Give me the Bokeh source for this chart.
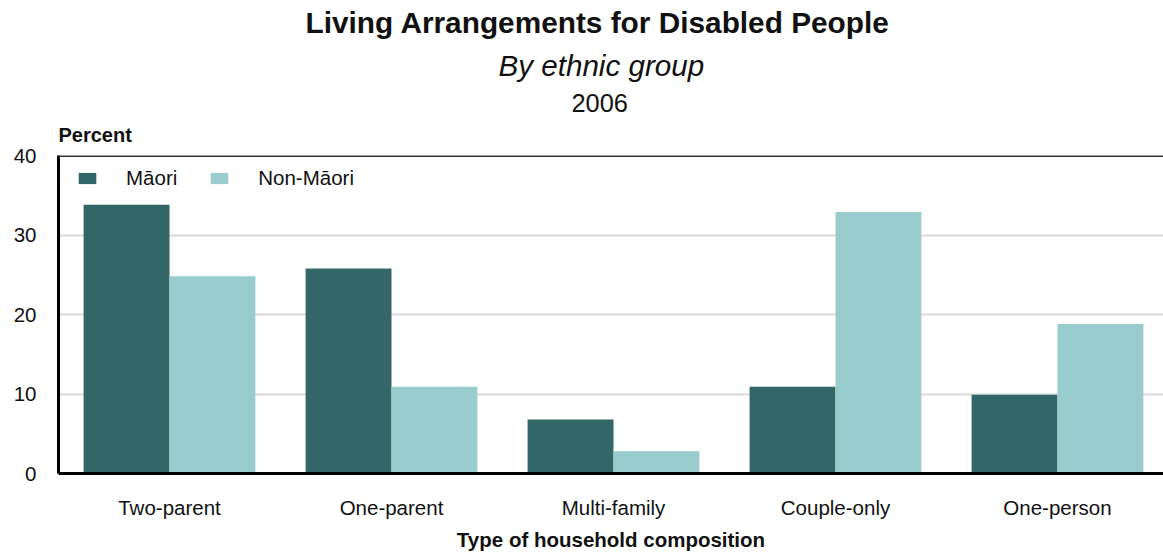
from bokeh.plotting import figure
from bokeh.models import (Range1d, FixedTicker, Legend, LegendItem, Span, ColumnDataSource, Title)
from bokeh.embed import file_html
from bokeh.resources import INLINE

categories = ["Two-parent", "One-parent", "Multi-family", "Couple-only", "One-person"]
maori = [33.8, 25.8, 6.8, 10.9, 9.9]
non_maori = [24.8, 10.9, 2.8, 32.9, 18.8]
y_ticks = [0, 10, 20, 30, 40]
series_names = ["Māori", "Non-Māori"]

FONT = "Liberation Sans"
DARK = "#336666"
LIGHT = "#99CCCC"

W, H = 1163, 553
LEFT, TOP, BOTTOM = 58, 155, 79
frame_w = W - LEFT
cat_px = 222.0
x_end = frame_w / cat_px

idx = list(range(len(categories)))
bw = 0.387
src_m = ColumnDataSource(dict(x=[i + 0.5 - bw / 2 for i in idx], top=maori))
src_n = ColumnDataSource(dict(x=[i + 0.5 + bw / 2 for i in idx], top=non_maori))

p = figure(width=W, height=H, output_backend="svg", toolbar_location=None,
           x_range=Range1d(0, x_end), y_range=Range1d(0, 40),
           min_border_left=LEFT, min_border_right=0, min_border_top=TOP,
           min_border_bottom=BOTTOM, outline_line_color=None)
p.background_fill_color = "white"
p.border_fill_color = "white"

r1 = p.vbar(x="x", top="top", width=bw, source=src_m, fill_color=DARK, line_color=None)
r2 = p.vbar(x="x", top="top", width=bw, source=src_n, fill_color=LIGHT, line_color=None)

# axes
p.xgrid.visible = False
p.ygrid.grid_line_color = "#d9d9d9"
p.ygrid.grid_line_width = 2
p.yaxis.ticker = FixedTicker(ticks=y_ticks)
p.yaxis.major_tick_line_color = None
p.yaxis.minor_tick_line_color = None
p.yaxis.axis_line_color = "black"
p.yaxis.axis_line_width = 3
p.yaxis.major_label_text_font = FONT
p.yaxis.major_label_text_font_size = "20.5px"
p.yaxis.major_label_text_color = "#111111"
p.yaxis.major_label_standoff = 16

p.xaxis.ticker = FixedTicker(ticks=[i + 0.5 for i in idx])
p.xaxis.major_label_overrides = {i + 0.5: c for i, c in zip(idx, categories)}
p.xaxis.major_tick_line_color = None
p.xaxis.minor_tick_line_color = None
p.xaxis.axis_line_color = "black"
p.xaxis.axis_line_width = 3
p.xaxis.major_label_text_font = FONT
p.xaxis.major_label_text_font_size = "20.5px"
p.xaxis.major_label_text_color = "#111111"
p.xaxis.major_label_standoff = 16
p.xaxis.axis_label = "Type of household composition"
p.xaxis.axis_label_text_font = FONT
p.xaxis.axis_label_text_font_size = "20.5px"
p.xaxis.axis_label_text_font_style = "bold"
p.xaxis.axis_label_text_color = "#111111"
p.xaxis.axis_label_standoff = 6

p.add_layout(Span(location=40, dimension="width", line_color="#333333", line_width=3))

legend = Legend(items=[LegendItem(label=series_names[0], renderers=[r1]),
                       LegendItem(label=series_names[1], renderers=[r2])],
                location=(18, 283), orientation="horizontal",
                glyph_width=22, glyph_height=14, label_standoff=28, spacing=31,
                padding=10, margin=0, border_line_color=None, background_fill_alpha=0,
                label_text_font=FONT, label_text_font_size="20.5px", label_text_color="#111111")
p.add_layout(legend)

def add_title(text, size, style="normal", offset=0, standoff=5):
    p.add_layout(Title(text=text, text_font=FONT, text_font_size=size, text_font_style=style,
                       align="left", offset=offset, standoff=standoff, text_color="#111111"),
                 "above")

# nearest to plot first
add_title("Percent", "20px", "bold", 0, 19)
add_title("2006", "25.4px", "normal", 513, 2)
add_title("By ethnic group", "29.6px", "italic", 440, 17)
add_title("Living Arrangements for Disabled People", "29.8px", "bold", 247, 0)

open("out.html", "w").write(file_html(p, INLINE))
